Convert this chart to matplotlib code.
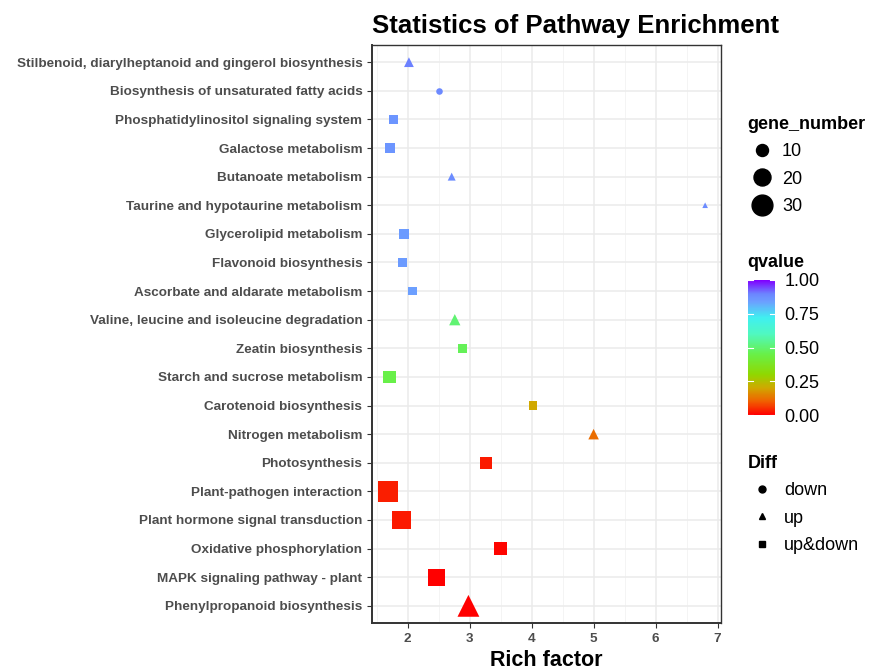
import matplotlib
matplotlib.use("Agg")
import matplotlib.pyplot as plt
import numpy as np
from matplotlib.colors import LinearSegmentedColormap, Normalize
from matplotlib.lines import Line2D

plt.rcParams['font.family'] = ['Liberation Sans', 'DejaVu Sans']

# pathways, bottom to top
pathways = [
    "Phenylpropanoid biosynthesis",
    "MAPK signaling pathway - plant",
    "Oxidative phosphorylation",
    "Plant hormone signal transduction",
    "Plant-pathogen interaction",
    "Photosynthesis",
    "Nitrogen metabolism",
    "Carotenoid biosynthesis",
    "Starch and sucrose metabolism",
    "Zeatin biosynthesis",
    "Valine, leucine and isoleucine degradation",
    "Ascorbate and aldarate metabolism",
    "Flavonoid biosynthesis",
    "Glycerolipid metabolism",
    "Taurine and hypotaurine metabolism",
    "Butanoate metabolism",
    "Galactose metabolism",
    "Phosphatidylinositol signaling system",
    "Biosynthesis of unsaturated fatty acids",
    "Stilbenoid, diarylheptanoid and gingerol biosynthesis",
]
rich_factor = [2.98, 2.47, 3.50, 1.90, 1.68, 3.26, 5.00, 4.02, 1.71, 2.88,
               2.76, 2.08, 1.91, 1.94, 6.80, 2.71, 1.71, 1.77, 2.50, 2.02]
gene_number = [30, 25, 14, 28, 36, 12, 7, 6, 14, 7,
               8, 6, 7, 8, 2, 4, 8, 8, 3, 6]
qvalue = [0.0, 0.0, 0.005, 0.03, 0.035, 0.03, 0.12, 0.2, 0.45, 0.47,
          0.5, 0.84, 0.85, 0.85, 0.88, 0.88, 0.86, 0.86, 0.89, 0.9]
diff = ["up", "up&down", "up&down", "up&down", "up&down", "up&down", "up",
        "up&down", "up&down", "up&down", "up", "up&down", "up&down", "up&down",
        "up", "up", "up&down", "up&down", "down", "up"]

size_breaks = [10, 20, 30]
diff_levels = ["down", "up", "up&down"]
shape_map = {"down": "o", "up": "^", "up&down": "s"}
shape_scale = {"down": 1.0, "up": 1.05, "up&down": 0.9}

cmap = LinearSegmentedColormap.from_list("q", [
    (0.0, "#FF0000"), (0.1, "#F06000"), (0.2, "#D0A800"), (0.3, "#90D800"),
    (0.45, "#68F048"), (0.6, "#50F8C0"), (0.72, "#40F0F0"),
    (0.84, "#6CA0FF"), (0.9, "#6C84FF"), (1.0, "#8000FF")])
norm = Normalize(0, 1)

px = 0.72  # points per pixel at dpi 100


def marker_pts(n):
    return 3.8 * np.sqrt(n) * px


fig = plt.figure(figsize=(8.71, 6.71), dpi=100)
ax = fig.add_axes([372 / 871, 1 - 623 / 671, 349 / 871, 578 / 671])

y = np.arange(1, len(pathways) + 1)
rf = np.array(rich_factor)
gn = np.array(gene_number)
for lvl in diff_levels:
    idx = [i for i, d in enumerate(diff) if d == lvl]
    sizes = (marker_pts(gn[idx]) * shape_scale[lvl]) ** 2
    ax.scatter(rf[idx], y[idx], s=sizes, c=np.array(qvalue)[idx], cmap=cmap,
               norm=norm, marker=shape_map[lvl], linewidths=0, zorder=3)

span = rf.max() - rf.min()
ax.set_xlim(rf.min() - 0.05 * span, rf.max() + 0.05 * span)
ax.set_ylim(0.4, len(pathways) + 0.6)
ax.set_yticks(y)
ax.set_yticklabels(pathways)
ax.set_xticks([2, 3, 4, 5, 6, 7])
ax.set_xticks(np.arange(1.5, 7.5, 0.5), minor=True)
ax.grid(which="major", color="#EBEBEB", linewidth=1.1, zorder=0)
ax.grid(which="minor", axis="x", color="#F2F2F2", linewidth=0.6, zorder=0)
ax.set_axisbelow(True)
for s in ax.spines.values():
    s.set_color("#333333")
    s.set_linewidth(1.0)
ax.spines["left"].set_linewidth(1.4)
ax.spines["bottom"].set_linewidth(1.4)
ax.tick_params(axis="both", which="major", length=3.5, color="#333333",
               labelcolor="#4D4D4D", labelsize=9.7, width=0.8)
ax.tick_params(axis="x", which="minor", length=0)
for t in ax.get_yticklabels() + ax.get_xticklabels():
    t.set_fontweight("bold")

ax.set_xlabel("Rich factor", fontsize=15.5, fontweight="bold", labelpad=4)
ax.set_title("Statistics of Pathway Enrichment", fontsize=18.5,
             fontweight="bold", loc="left", pad=9)

leg_font = 13

# gene_number legend
size_handles = [Line2D([], [], linestyle="none", marker="o", color="black",
                       markersize=marker_pts(b)) for b in size_breaks]
fig.legend(size_handles, [str(b) for b in size_breaks],
           title="gene_number", loc="upper left",
           bbox_to_anchor=(735 / 871, 1 - 103 / 671), frameon=False,
           fontsize=leg_font,
           title_fontproperties={"weight": "bold", "size": leg_font},
           alignment="left", handletextpad=0.3, labelspacing=0.58,
           borderpad=0.2, handlelength=1.6)

# qvalue colorbar
fig.text(747 / 871, 1 - 262 / 671, "qvalue", fontsize=leg_font,
         fontweight="bold", va="center", ha="left")
cax = fig.add_axes([748 / 871, 1 - 415 / 671, 27 / 871, 135 / 671])
cb = fig.colorbar(plt.cm.ScalarMappable(norm=norm, cmap=cmap), cax=cax,
                  ticks=[0, 0.25, 0.5, 0.75, 1.0])
cb.ax.set_yticklabels(["0.00", "0.25", "0.50", "0.75", "1.00"])
cb.outline.set_visible(False)
cb.ax.tick_params(length=0, labelsize=leg_font, pad=7)
for t in [0, 0.25, 0.5, 0.75, 1.0]:
    cb.ax.plot([0, 0.2], [t, t], color="white", lw=0.8)
    cb.ax.plot([0.8, 1.0], [t, t], color="white", lw=0.8)

# Diff legend
shape_handles = [Line2D([], [], linestyle="none", marker=shape_map[d],
                        color="black", markersize=5) for d in diff_levels]
fig.legend(shape_handles, diff_levels, title="Diff", loc="upper left",
           bbox_to_anchor=(735 / 871, 1 - 442 / 671), frameon=False,
           fontsize=leg_font,
           title_fontproperties={"weight": "bold", "size": leg_font},
           alignment="left", handletextpad=0.4, labelspacing=0.58,
           borderpad=0.2, handlelength=1.6)

fig.savefig("out.png", dpi=100)
